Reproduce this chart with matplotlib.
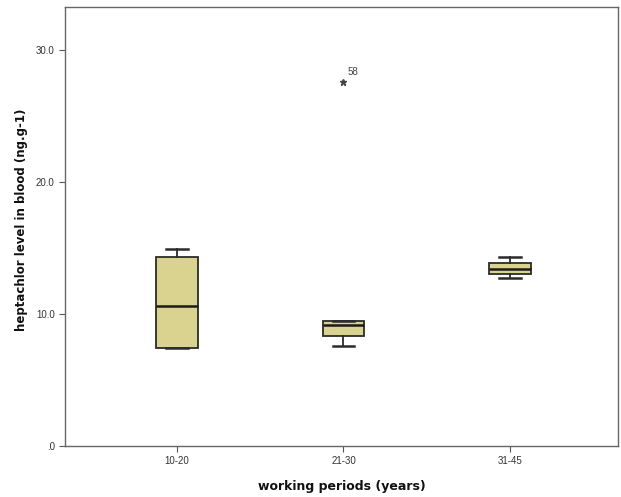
import matplotlib

matplotlib.use("Agg")
import matplotlib.pyplot as plt

plt.rcParams["font.family"] = ["Liberation Sans", "DejaVu Sans"]

# five-number summaries per working period (ng/g)
periods = ["10-20", "21-30", "31-45"]
whisker_low = [7.4, 7.6, 12.7]
q1 = [7.4, 8.35, 13.05]
median = [10.6, 9.2, 13.4]
q3 = [14.3, 9.5, 13.85]
whisker_high = [14.9, 9.5, 14.3]
extremes = [[], [27.6], []]
extreme_ids = [[], ["58"], []]

stats = []
for i, name in enumerate(periods):
    stats.append({
        "label": name,
        "whislo": whisker_low[i],
        "q1": q1[i],
        "med": median[i],
        "q3": q3[i],
        "whishi": whisker_high[i],
        "fliers": [],
    })

fig = plt.figure(figsize=(6.21, 4.97), dpi=100)
ax = fig.add_axes([0.105, 0.103, 0.89, 0.883])

positions = [1, 2, 3]
edge = "#2b2b2b"
ax.bxp(
    stats,
    positions=positions,
    widths=0.25,
    patch_artist=True,
    showfliers=False,
    boxprops=dict(facecolor="#d9d38f", edgecolor=edge, linewidth=1.3),
    medianprops=dict(color="#1a1a1a", linewidth=1.8),
    whiskerprops=dict(color=edge, linewidth=1.3),
    capprops=dict(color=edge, linewidth=1.8),
    capwidths=0.13,
)

# extreme values drawn as asterisks with case numbers
for pos, vals, ids in zip(positions, extremes, extreme_ids):
    for v, case in zip(vals, ids):
        ax.plot(pos, v, marker="*", color="#444444", markersize=5, linestyle="none")
        ax.annotate(case, (pos, v), xytext=(3, 5), textcoords="offset points",
                    fontsize=7, color="#444444")

ax.set_xlim(0.327, 3.65)
ax.set_ylim(0, 33.3)
ax.set_yticks([0, 10, 20, 30])
ax.set_yticklabels([".0", "10.0", "20.0", "30.0"])
ax.set_xticks(positions)
ax.set_xticklabels(periods)
ax.tick_params(labelsize=7, colors="#555555", labelcolor="#333333", length=4)

for side in ax.spines.values():
    side.set_color("#666666")
    side.set_linewidth(1.0)

label_font = dict(family="DejaVu Sans", fontweight="bold", color="#111111")
ax.set_ylabel("heptachlor level in blood (ng.g-1)", fontsize=8.5, **label_font)
ax.set_xlabel("working periods (years)", fontsize=9, **label_font)
ax.yaxis.set_label_coords(-0.068, 0.515)
ax.xaxis.set_label_coords(0.5, -0.078)

fig.savefig("out.png", dpi=100)
